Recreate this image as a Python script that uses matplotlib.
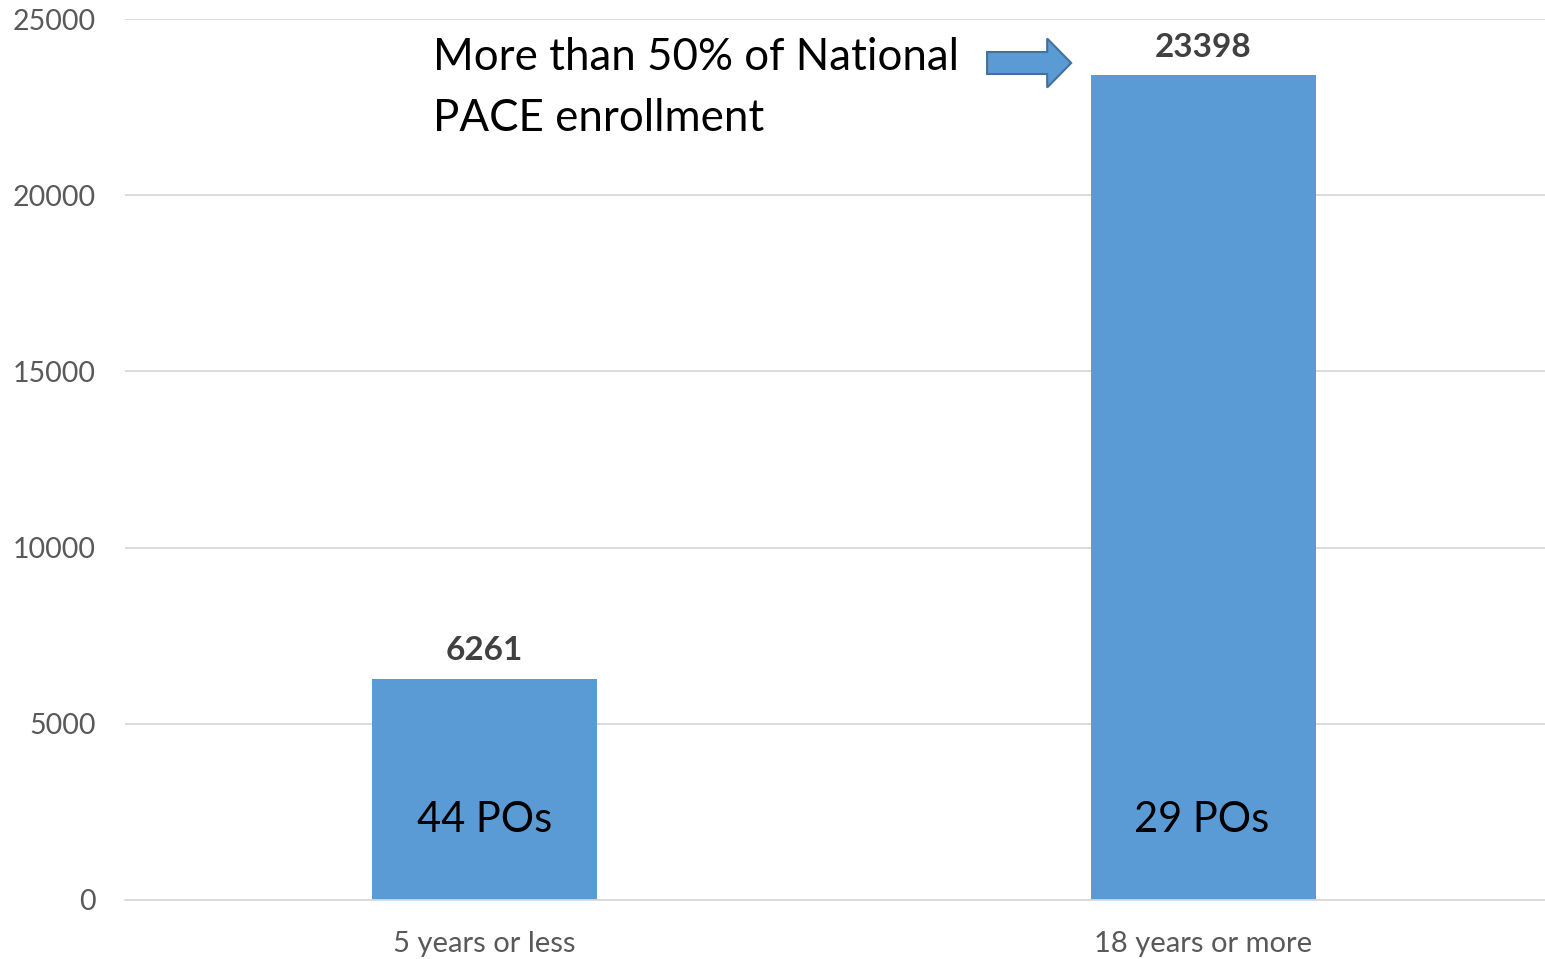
import matplotlib
matplotlib.use("Agg")
import matplotlib.pyplot as plt
from matplotlib.patches import FancyArrow

categories = ["5 years or less", "18 years or more"]
values = [6261, 23398]
po_labels = ["44 POs", "29 POs"]
yticks = [0, 5000, 10000, 15000, 20000, 25000]
note = "More than 50% of National\nPACE enrollment"

plt.rcParams['font.family'] = ['Lato', 'DejaVu Sans']

fig = plt.figure(figsize=(15.45, 9.59), dpi=100)
ax = fig.add_axes([125/1545, 59/959, 1420/1545, 881/959])

x = list(range(len(categories)))
bars = ax.bar(x, values, width=0.313, color="#5B9BD5", zorder=2)

ax.set_xlim(-0.5, 1.475)
ax.set_ylim(0, 25000)
ax.set_yticks(yticks)
ax.set_yticklabels([str(t) for t in yticks])
ax.set_xticks(x)
ax.set_xticklabels(categories)
ax.tick_params(axis='y', length=0, pad=21, labelsize=20.5, labelcolor="#595959")
ax.tick_params(axis='x', length=0, pad=22, labelsize=21, labelcolor="#595959")
ax.grid(axis='y', color="#D9D9D9", linewidth=1.3, zorder=0)
for s in ["top", "right", "left"]:
    ax.spines[s].set_visible(False)
ax.spines["bottom"].set_color("#D9D9D9")
ax.spines["bottom"].set_linewidth(1.3)

for xi, v, pl in zip(x, values, po_labels):
    ax.annotate(str(v), (xi, v), xytext=(0, 10), textcoords="offset points",
                ha="center", va="bottom", fontsize=24, fontweight="bold", color="#404040")
    ax.annotate(pl, (xi, 2270), xytext=(-1.5 * xi, 0), textcoords="offset points",
                ha="center", va="center", fontsize=30, color="black", zorder=3)

ax.text(-0.0716, 24500, note, ha="left", va="top", fontsize=31.6, color="black",
        linespacing=1.62)

arrow = FancyArrow(0.699, 23751, 0.117, 0, width=624, head_width=1390,
                   head_length=0.0334, length_includes_head=True,
                   facecolor="#5B9BD5", edgecolor="#41719C", linewidth=1.5, zorder=3)
ax.add_patch(arrow)

fig.savefig("out.png", dpi=100)
